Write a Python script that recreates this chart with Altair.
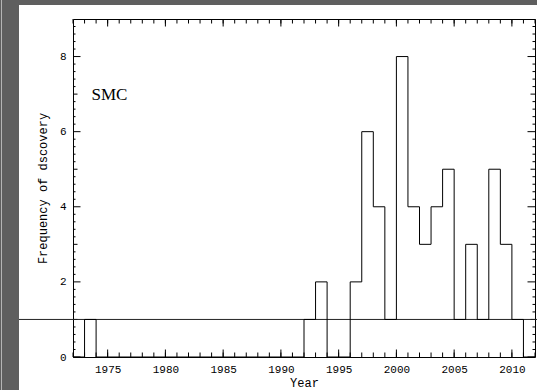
import altair as alt
import pandas as pd

# ---- data ----
YEARS = [1972, 1973, 1974, 1975, 1976, 1977, 1978, 1979, 1980, 1981,
         1982, 1983, 1984, 1985, 1986, 1987, 1988, 1989, 1990, 1991,
         1992, 1993, 1994, 1995, 1996, 1997, 1998, 1999, 2000, 2001,
         2002, 2003, 2004, 2005, 2006, 2007, 2008, 2009, 2010, 2011, 2012]
COUNTS = [0, 1, 0, 0, 0, 0, 0, 0, 0, 0,
          0, 0, 0, 0, 0, 0, 0, 0, 0, 0,
          1, 2, 0, 0, 2, 6, 4, 1, 8, 4,
          3, 4, 5, 1, 3, 1, 5, 3, 1, 0, 0]
REF_LEVEL = [1]
X_LABELS = [1975, 1980, 1985, 1990, 1995, 2000, 2005, 2010]
Y_LABELS = [0, 2, 4, 6, 8]
X_MINOR = list(range(1972, 2013))
Y_MEDIUM = [1, 3, 5, 7]
Y_MINOR = [round(i * 0.2, 1) for i in range(0, 46) if i % 5 != 0]

W, H = 462, 338
BLACK = "black"

xscale = alt.Scale(domain=[1972, 2012], nice=False, zero=False)
yscale = alt.Scale(domain=[0, 9], nice=False, zero=False)

xaxis = alt.Axis(values=X_LABELS, format="d", ticks=False, tickSize=0, domain=False,
                 grid=False, labelFont="Liberation Mono", labelFontSize=11,
                 labelColor=BLACK, labelPadding=6, title="Year",
                 titleFont="Liberation Mono", titleFontSize=12, titleFontWeight="normal",
                 titleColor=BLACK, titleX=W / 2, titleY=29, titleBaseline="alphabetic",
                 titleAlign="center")
yaxis = alt.Axis(values=Y_LABELS, ticks=False, tickSize=0, domain=False, grid=False,
                 labelFont="Liberation Mono", labelFontSize=11, labelColor=BLACK,
                 labelPadding=7, title="Frequency of dscovery",
                 titleFont="Liberation Mono", titleFontSize=12, titleFontWeight="normal",
                 titleColor=BLACK, titleX=-31, titleY=H / 2, titleAngle=270,
                 titleAlign="center", titleBaseline="middle")

xenc = alt.X("year:Q", scale=xscale, axis=xaxis)
yenc = alt.Y("val:Q", scale=yscale, axis=yaxis)

one = pd.DataFrame({"a": [0]})

# decorative frame of the original figure
gray_left = alt.Chart(one).mark_rect(color="#5f5f5f").encode(
    x=alt.value(-73), x2=alt.value(-54), y=alt.value(-19), y2=alt.value(H + 33))
gray_top = alt.Chart(one).mark_rect(color="#5f5f5f").encode(
    x=alt.value(-73), x2=alt.value(W + 2), y=alt.value(-19), y2=alt.value(-14))
light_line = alt.Chart(one).mark_rule(color="#b5b5b5", strokeWidth=1).encode(
    x=alt.value(-71.5), y=alt.value(-19), y2=alt.value(H + 33))

layers = [gray_left, gray_top, light_line]


def xticks(vals, length):
    df = pd.DataFrame({"year": vals})
    b = alt.Chart(df).mark_rule(color=BLACK, strokeWidth=1).encode(
        x=xenc, y=alt.value(H), y2=alt.value(H - length))
    t = alt.Chart(df).mark_rule(color=BLACK, strokeWidth=1).encode(
        x=xenc, y=alt.value(0), y2=alt.value(length))
    return [b, t]


def yticks(vals, length):
    df = pd.DataFrame({"val": vals})
    l = alt.Chart(df).mark_rule(color=BLACK, strokeWidth=1).encode(
        y=yenc, x=alt.value(0), x2=alt.value(length))
    r = alt.Chart(df).mark_rule(color=BLACK, strokeWidth=1).encode(
        y=yenc, x=alt.value(W), x2=alt.value(W - length))
    return [l, r]


layers += xticks(X_MINOR, 4.5)
layers += xticks(X_LABELS, 7.5)
layers += yticks(Y_MINOR, 2.5)
layers += yticks(Y_MEDIUM, 4.5)
layers += yticks(Y_LABELS, 7.5)

# horizontal reference line at 1, running across the whole figure
hline = alt.Chart(pd.DataFrame({"val": REF_LEVEL})).mark_rule(
    color="#222222", strokeWidth=1).encode(y=yenc, x=alt.value(-54), x2=alt.value(W + 2))
layers.append(hline)

hist = alt.Chart(pd.DataFrame({"year": YEARS, "val": COUNTS})).mark_line(
    interpolate="step-after", color=BLACK, strokeWidth=1).encode(x=xenc, y=yenc)
layers.append(hist)

label = alt.Chart(one).mark_text(
    text="SMC", font="Liberation Serif", fontSize=17, color=BLACK,
    align="left", baseline="alphabetic").encode(x=alt.value(18.5), y=alt.value(81))
layers.append(label)

chart = alt.layer(*layers).properties(
    width=W, height=H,
    padding={"left": 73, "top": 19, "right": 2, "bottom": 33},
    autosize=alt.AutoSizeParams(type="none"),
    background="white",
).configure_view(stroke=BLACK, strokeWidth=1)

chart.save("out.html", embed_options={"renderer": "svg", "actions": False})
